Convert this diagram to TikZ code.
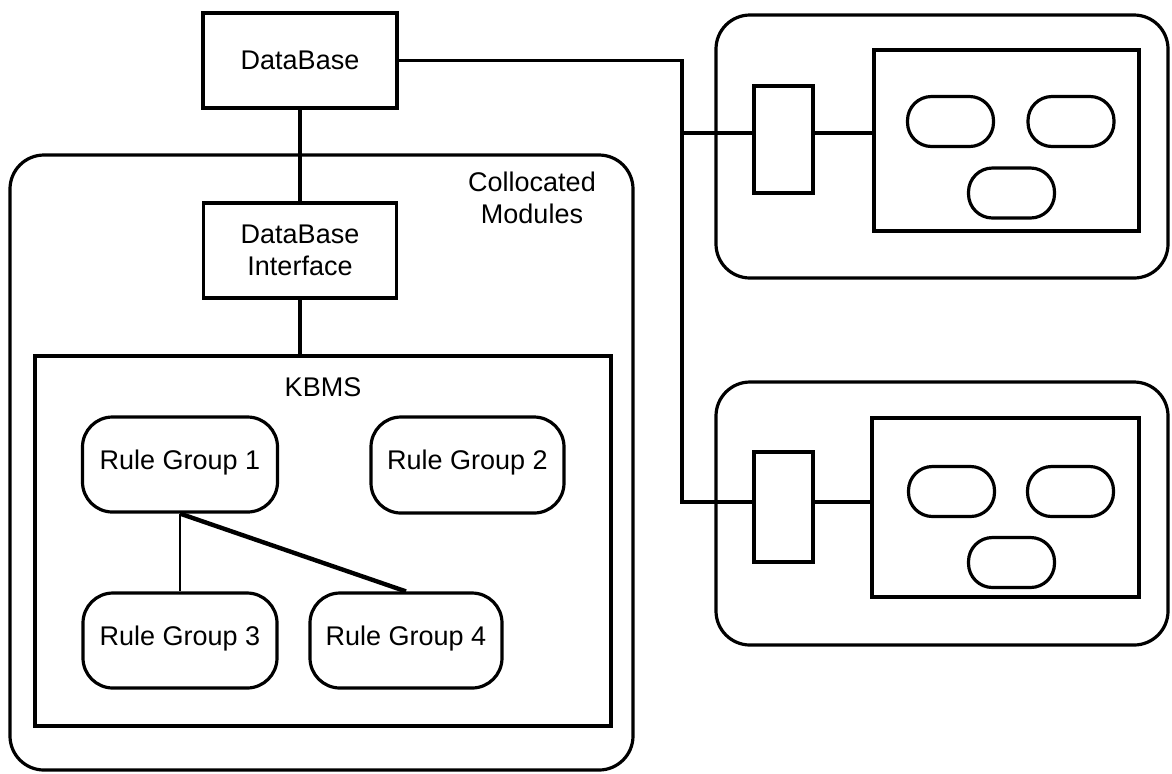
\documentclass[tikz,border=0pt]{standalone}
\usepackage{fontspec}
\setmainfont{Liberation Sans}
\begin{document}
\begin{tikzpicture}[x=0.5pt,y=-0.5pt,
  every node/.style={font=\fontsize{13.5}{16}\selectfont},
  sq/.style={draw, line width=1.6pt, rectangle, inner sep=0pt},
  rnd/.style={draw, line width=1.6pt, rectangle, rounded corners=15pt, inner sep=0pt},
  cont/.style={draw, line width=1.6pt, rectangle, rounded corners=17pt, inner sep=0pt},
  pill/.style={draw, line width=1.6pt, rectangle, rounded corners=12pt, inner sep=0pt, minimum width=43pt, minimum height=25pt},
  conn/.style={line width=1.6pt},
  thin/.style={line width=1.2pt},
  thick/.style={line width=2.2pt},
  lbl/.style={inner sep=0pt, align=center}]
\useasboundingbox (0,0) rectangle (1172,773);
% left side
\node[cont, minimum width=311.5pt, minimum height=307.5pt] (coll) at (321.5,462.5) {};
\node[lbl] (colllbl) at (532,198) {Collocated\\Modules};
\node[sq, minimum width=97pt, minimum height=47.5pt] (db) at (300,60.5) {DataBase};
\node[sq, minimum width=96.5pt, minimum height=47.5pt, align=center] (dbi) at (300,250.5) {DataBase\\Interface};
\node[sq, minimum width=288pt, minimum height=185pt] (kbms) at (323,541) {};
\node[lbl] (kbmslbl) at (323,387) {KBMS};
\node[rnd, minimum width=97.5pt, minimum height=47.5pt] (rg1) at (180,464.5) {\raisebox{5pt}{Rule Group 1}};
\node[rnd, minimum width=96.5pt, minimum height=48pt] (rg2) at (467.5,465) {\raisebox{5pt}{Rule Group 2}};
\node[rnd, minimum width=97pt, minimum height=47.5pt] (rg3) at (180,640.5) {\raisebox{5pt}{Rule Group 3}};
\node[rnd, minimum width=96pt, minimum height=47.5pt] (rg4) at (406,640.5) {\raisebox{5pt}{Rule Group 4}};
\draw[conn] (db.south) -- (dbi.north);
\draw[conn] (dbi.south) -- (dbi.south |- kbms.north);
\draw[thin] (rg1.south) -- (rg3.north);
\draw[thick] (rg1.south) -- (rg4.north);
% right top
\node[cont, minimum width=226pt, minimum height=131.5pt] (ot) at (942,146.5) {};
\node[sq, minimum width=29.5pt, minimum height=53.5pt] (st) at (783.5,139.5) {};
\node[sq, minimum width=132.5pt, minimum height=90.5pt] (it) at (1006.5,140.5) {};
\node[pill] (pt1) at (950.5,121.5) {};
\node[pill] (pt2) at (1071,121.5) {};
\node[pill] (pt3) at (1011.5,193) {};
% right bottom
\node[cont, minimum width=226pt, minimum height=131.5pt] (ob) at (942,513.5) {};
\node[sq, minimum width=29.5pt, minimum height=55pt] (sb) at (783.5,507) {};
\node[sq, minimum width=133.5pt, minimum height=89.5pt] (ib) at (1005.5,507.5) {};
\node[pill] (pb1) at (951.5,491.5) {};
\node[pill] (pb2) at (1070.5,491.5) {};
\node[pill] (pb3) at (1011.5,562.5) {};
% connectors
\coordinate (jt) at (682,133);
\coordinate (jb) at (682,502);
\draw[conn] (db.east) -| (jb) -- (jb -| sb.west);
\draw[conn] (jt) -- (jt -| st.west);
\draw[conn] (jt -| st.east) -- (jt -| it.west);
\draw[conn] (jb -| sb.east) -- (jb -| ib.west);
\end{tikzpicture}
\end{document}
